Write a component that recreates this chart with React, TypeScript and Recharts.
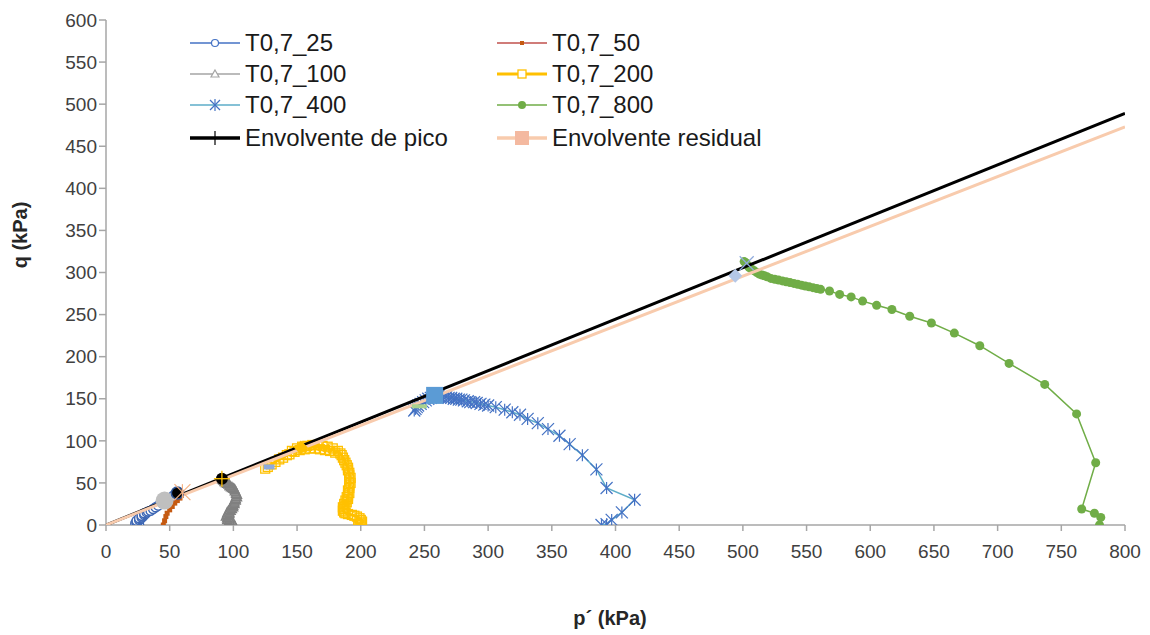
import React from "react";
import { ScatterChart, Scatter, XAxis, YAxis } from "recharts";

type Pt = { p: number; q: number };

const xTicks = [0, 50, 100, 150, 200, 250, 300, 350, 400, 450, 500, 550, 600, 650, 700, 750, 800];
const yTicks = [0, 50, 100, 150, 200, 250, 300, 350, 400, 450, 500, 550, 600];

// stress paths (p', q) in kPa
const t25: Pt[] = [
  { p: 26, q: 0 }, { p: 24, q: 1 }, { p: 23, q: 2 }, { p: 24, q: 3 }, { p: 25, q: 4 },
  { p: 24, q: 5 }, { p: 26, q: 6 }, { p: 27, q: 7 }, { p: 26, q: 8 }, { p: 28, q: 9 },
  { p: 29, q: 10 }, { p: 28, q: 11 }, { p: 30, q: 12 }, { p: 31, q: 13 }, { p: 30, q: 14 },
  { p: 32, q: 15 }, { p: 33, q: 16 }, { p: 35, q: 17 }, { p: 37, q: 19 }, { p: 39, q: 21 },
  { p: 41, q: 23 }, { p: 44, q: 26 }, { p: 47, q: 29 }, { p: 50, q: 32 }, { p: 53, q: 35 },
  { p: 55, q: 37 }, { p: 57, q: 39 },
];
const t50: Pt[] = [
  { p: 45, q: 0 }, { p: 46, q: 5 }, { p: 47, q: 10 }, { p: 48, q: 14 }, { p: 50, q: 18 },
  { p: 52, q: 22 }, { p: 54, q: 26 }, { p: 56, q: 29 }, { p: 58, q: 32 }, { p: 59, q: 35 },
];
const t100: Pt[] = [
  { p: 101, q: 0 }, { p: 99, q: 0 }, { p: 97, q: 1 }, { p: 100, q: 2 }, { p: 98, q: 3 },
  { p: 96, q: 4 }, { p: 99, q: 5 }, { p: 97, q: 6 }, { p: 95, q: 7 }, { p: 97, q: 8 },
  { p: 95, q: 9 }, { p: 96, q: 10 }, { p: 94, q: 11 }, { p: 96, q: 12 }, { p: 95, q: 13 },
  { p: 97, q: 14 }, { p: 95, q: 15 }, { p: 97, q: 16 }, { p: 96, q: 17 }, { p: 98, q: 18 },
  { p: 97, q: 19 }, { p: 99, q: 20 }, { p: 98, q: 21 }, { p: 100, q: 22 }, { p: 99, q: 23 },
  { p: 100, q: 24 }, { p: 99, q: 25 }, { p: 101, q: 26 }, { p: 100, q: 27 }, { p: 101, q: 28 },
  { p: 102, q: 30 }, { p: 101, q: 31 }, { p: 102, q: 32 }, { p: 103, q: 34 }, { p: 102, q: 35 },
  { p: 103, q: 37 }, { p: 102, q: 38 }, { p: 102, q: 40 }, { p: 101, q: 41 }, { p: 101, q: 43 },
  { p: 100, q: 44 }, { p: 99, q: 45 }, { p: 98, q: 46 }, { p: 97, q: 47 }, { p: 97, q: 48 },
  { p: 96, q: 49 }, { p: 95, q: 50 }, { p: 94, q: 51 }, { p: 93, q: 52 }, { p: 93, q: 53 },
  { p: 92, q: 54 }, { p: 91, q: 55 },
];
const t200: Pt[] = [
  { p: 199, q: 0 }, { p: 198, q: 1 }, { p: 200, q: 2 }, { p: 201, q: 4 }, { p: 200, q: 6 },
  { p: 199, q: 8 }, { p: 197, q: 10 }, { p: 195, q: 11 }, { p: 193, q: 12 }, { p: 190, q: 13 },
  { p: 188, q: 14 }, { p: 187, q: 15 }, { p: 186, q: 17 }, { p: 187, q: 19 }, { p: 186, q: 21 },
  { p: 188, q: 23 }, { p: 187, q: 25 }, { p: 189, q: 27 }, { p: 188, q: 29 }, { p: 190, q: 31 },
  { p: 189, q: 33 }, { p: 190, q: 35 }, { p: 191, q: 38 }, { p: 190, q: 41 }, { p: 191, q: 44 },
  { p: 191, q: 47 }, { p: 192, q: 50 }, { p: 191, q: 53 }, { p: 192, q: 56 }, { p: 191, q: 59 },
  { p: 191, q: 62 }, { p: 190, q: 65 }, { p: 190, q: 68 }, { p: 189, q: 71 }, { p: 188, q: 74 },
  { p: 187, q: 77 }, { p: 186, q: 80 }, { p: 185, q: 83 }, { p: 184, q: 85 }, { p: 182, q: 88 },
  { p: 180, q: 86 }, { p: 178, q: 91 }, { p: 176, q: 88 }, { p: 174, q: 93 }, { p: 172, q: 89 },
  { p: 170, q: 94 }, { p: 168, q: 90 }, { p: 166, q: 95 }, { p: 164, q: 91 }, { p: 162, q: 95 },
  { p: 160, q: 91 }, { p: 158, q: 94 }, { p: 156, q: 90 }, { p: 154, q: 93 }, { p: 152, q: 89 },
  { p: 150, q: 91 }, { p: 148, q: 87 }, { p: 146, q: 88 }, { p: 144, q: 84 }, { p: 142, q: 83 },
  { p: 139, q: 80 }, { p: 136, q: 78 }, { p: 133, q: 75 }, { p: 130, q: 72 }, { p: 127, q: 69 },
  { p: 125, q: 67 },
];
const t400: Pt[] = [
  { p: 389, q: 0 }, { p: 393, q: 1 }, { p: 397, q: 6 }, { p: 405, q: 15 }, { p: 415, q: 30 },
  { p: 393, q: 44 }, { p: 385, q: 66 }, { p: 374, q: 83 }, { p: 364, q: 96 }, { p: 356, q: 106 },
  { p: 347, q: 114 }, { p: 339, q: 121 }, { p: 331, q: 126 }, { p: 325, q: 131 }, { p: 319, q: 134 },
  { p: 313, q: 137 }, { p: 306, q: 140 }, { p: 300, q: 142 }, { p: 297, q: 143 }, { p: 294, q: 144 },
  { p: 291, q: 145 }, { p: 289, q: 146 }, { p: 286, q: 146 }, { p: 284, q: 147 }, { p: 281, q: 148 },
  { p: 279, q: 149 }, { p: 277, q: 149 }, { p: 275, q: 150 }, { p: 273, q: 150 }, { p: 271, q: 151 },
  { p: 269, q: 151 }, { p: 267, q: 152 }, { p: 265, q: 152 }, { p: 263, q: 152 }, { p: 261, q: 153 },
  { p: 259, q: 153 }, { p: 257, q: 152 }, { p: 255, q: 151 }, { p: 253, q: 150 }, { p: 251, q: 148 },
  { p: 249, q: 146 }, { p: 247, q: 144 }, { p: 245, q: 142 }, { p: 244, q: 140 }, { p: 243, q: 138 },
  { p: 242, q: 136 },
];
const t800: Pt[] = [
  { p: 780, q: 0 }, { p: 781, q: 9 }, { p: 776, q: 14 }, { p: 766, q: 19 }, { p: 777, q: 74 },
  { p: 762, q: 132 }, { p: 737, q: 167 }, { p: 709, q: 192 }, { p: 686, q: 213 }, { p: 666, q: 228 },
  { p: 648, q: 240 }, { p: 631, q: 248 }, { p: 617, q: 256 }, { p: 605, q: 261 }, { p: 594, q: 266 },
  { p: 585, q: 271 }, { p: 576, q: 274 }, { p: 568, q: 278 }, { p: 561, q: 280 }, { p: 558, q: 281 },
  { p: 555, q: 282 }, { p: 552, q: 283 }, { p: 549, q: 284 }, { p: 546, q: 285 }, { p: 543, q: 286 },
  { p: 540, q: 287 }, { p: 537, q: 288 }, { p: 534, q: 289 }, { p: 531, q: 290 }, { p: 528, q: 291 },
  { p: 525, q: 292 }, { p: 522, q: 293 }, { p: 519, q: 295 }, { p: 517, q: 296 }, { p: 515, q: 297 },
  { p: 513, q: 298 }, { p: 511, q: 300 }, { p: 509, q: 302 }, { p: 507, q: 304 }, { p: 505, q: 306 },
  { p: 504, q: 308 }, { p: 503, q: 310 }, { p: 502, q: 312 }, { p: 501, q: 313 },
];

// failure envelopes
const envPico: Pt[] = [{ p: 0, q: 0 }, { p: 800, q: 489 }];
const envResidual: Pt[] = [{ p: 0, q: 0 }, { p: 800, q: 473 }];

// picked peak / residual states
const pk25a: Pt[] = [{ p: 46, q: 29 }];
const pk25b: Pt[] = [{ p: 56, q: 38 }];
const pk50: Pt[] = [{ p: 60, q: 39 }];
const pk100: Pt[] = [{ p: 91, q: 55 }];
const pk200: Pt[] = [{ p: 153, q: 92 }];
const rs200: Pt[] = [{ p: 128, q: 69 }];
const pk400: Pt[] = [{ p: 258, q: 154 }];
const rs400: Pt[] = [{ p: 246, q: 141 }];
const rs800: Pt[] = [{ p: 494, q: 296 }];
const pk800: Pt[] = [{ p: 503, q: 311 }];

const FONT = "'Liberation Sans', Arial, sans-serif";
const AXIS = "#A6A6A6";

const hollowCircle = (color: string, r: number) => (props: any) =>
  <circle cx={props.cx} cy={props.cy} r={r} fill="#fff" stroke={color} strokeWidth={1.5} />;
const dot = (color: string, r: number, stroke = "none") => (props: any) =>
  <circle cx={props.cx} cy={props.cy} r={r} fill={color} stroke={stroke} strokeWidth={1.5} />;
const square = (fill: string, stroke: string, s: number) => (props: any) =>
  <rect x={props.cx - s / 2} y={props.cy - s / 2} width={s} height={s} fill={fill} stroke={stroke} strokeWidth={1.3} />;
const dash = (color: string, w: number, h: number) => (props: any) =>
  <rect x={props.cx - w / 2} y={props.cy - h / 2} width={w} height={h} fill={color} />;
const triangle = (color: string, s: number) => (props: any) => {
  const { cx, cy } = props;
  const h = s / 2;
  return <path d={`M${cx},${cy - h}L${cx + h},${cy + h}L${cx - h},${cy + h}Z`} fill="#9A9A9A" stroke={color} strokeWidth={1.2} />;
};
const diamond = (color: string, s: number) => (props: any) => {
  const { cx, cy } = props;
  const h = s / 2;
  return <path d={`M${cx},${cy - h}L${cx + h},${cy}L${cx},${cy + h}L${cx - h},${cy}Z`} fill={color} />;
};
const asterisk = (color: string, s: number, plus = true) => (props: any) => {
  const { cx, cy } = props;
  const h = s / 2;
  return (
    <g stroke={color} strokeWidth={1.2}>
      <line x1={cx - h} y1={cy - h} x2={cx + h} y2={cy + h} />
      <line x1={cx - h} y1={cy + h} x2={cx + h} y2={cy - h} />
      {plus && <line x1={cx} y1={cy - h} x2={cx} y2={cy + h} />}
    </g>
  );
};
const crossDot = (props: any) => {
  const { cx, cy } = props;
  return (
    <g>
      <circle cx={cx} cy={cy} r={6} fill="#000" />
      <line x1={cx - 8} y1={cy} x2={cx + 8} y2={cy} stroke="#FFC000" strokeWidth={1.3} />
      <line x1={cx} y1={cy - 8} x2={cx} y2={cy + 8} stroke="#FFC000" strokeWidth={1.3} />
    </g>
  );
};
const none = () => <g />;

type LegendItem = { name: string; col: number; row: number; icon: React.ReactNode };

const legendItems: LegendItem[] = [
  { name: "T0,7_25", col: 0, row: 0, icon: <><line x1={0} y1={10} x2={50} y2={10} stroke="#4472C4" strokeWidth={1.5} /><circle cx={25} cy={10} r={3.5} fill="#fff" stroke="#4472C4" strokeWidth={1.2} /></> },
  { name: "T0,7_50", col: 1, row: 0, icon: <><line x1={0} y1={10} x2={50} y2={10} stroke="#C0504D" strokeWidth={1.5} /><rect x={23} y={8} width={4} height={4} fill="#C55A11" /></> },
  { name: "T0,7_100", col: 0, row: 1, icon: <><line x1={0} y1={10} x2={50} y2={10} stroke="#A5A5A5" strokeWidth={1.5} /><path d="M25,6L29,13L21,13Z" fill="#fff" stroke="#A5A5A5" strokeWidth={1.2} /></> },
  { name: "T0,7_200", col: 1, row: 1, icon: <><line x1={0} y1={10} x2={50} y2={10} stroke="#FFC000" strokeWidth={3} /><rect x={21} y={6} width={8} height={8} fill="#fff" stroke="#FFC000" strokeWidth={1.3} /></> },
  { name: "T0,7_400", col: 0, row: 2, icon: <><line x1={0} y1={10} x2={50} y2={10} stroke="#5DADC8" strokeWidth={1.5} /><g stroke="#4472C4" strokeWidth={1.2}><line x1={20} y1={5} x2={30} y2={15} /><line x1={20} y1={15} x2={30} y2={5} /><line x1={25} y1={4} x2={25} y2={16} /></g></> },
  { name: "T0,7_800", col: 1, row: 2, icon: <><line x1={0} y1={10} x2={50} y2={10} stroke="#70AD47" strokeWidth={1.5} /><circle cx={25} cy={10} r={4} fill="#70AD47" /></> },
  { name: "Envolvente de pico", col: 0, row: 3, icon: <><line x1={0} y1={10} x2={50} y2={10} stroke="#000" strokeWidth={3.5} /><line x1={25} y1={3} x2={25} y2={17} stroke="#000" strokeWidth={1.2} /></> },
  { name: "Envolvente residual", col: 1, row: 3, icon: <><line x1={0} y1={10} x2={50} y2={10} stroke="#F8CBAD" strokeWidth={3.5} /><rect x={18} y={3} width={14} height={14} fill="#F4B9A0" /></> },
];

const legendCols = [182, 489];
const legendRows = [35, 66, 97, 130];

function ChartLegend() {
  return (
    <>
      {legendItems.map((it) => (
        <div
          key={it.name}
          style={{
            position: "absolute",
            left: legendCols[it.col],
            top: legendRows[it.row] - 13,
            height: 26,
            display: "flex",
            alignItems: "center",
            fontFamily: FONT,
            fontSize: 24,
            color: "#1a1a1a",
            whiteSpace: "nowrap",
          }}
        >
          <svg width={52} height={20} style={{ marginRight: 3 }}>{it.icon}</svg>
          <span>{it.name}</span>
        </div>
      ))}
    </>
  );
}

const tickStyle = { fill: "#404040", fontSize: 19, fontFamily: FONT };

export default function App() {
  return (
    <div style={{ position: "relative", width: 1142, height: 627 }}>
      <ScatterChart width={1142} height={627} margin={{ top: 12, right: 25, left: 38, bottom: 80 }}>
        <XAxis
          type="number"
          dataKey="p"
          domain={[0, 800]}
          ticks={xTicks}
          interval={0}
          allowDataOverflow
          height={30}
          stroke={AXIS}
          strokeWidth={1.5}
          tickSize={6}
          tickMargin={14}
          tick={tickStyle}
        />
        <YAxis
          type="number"
          dataKey="q"
          domain={[0, 600]}
          ticks={yTicks}
          interval={0}
          allowDataOverflow
          width={60}
          stroke={AXIS}
          strokeWidth={1.5}
          tickSize={7}
          tickMargin={2}
          tick={tickStyle}
        />
        <Scatter data={t25} line={{ stroke: "#4472C4", strokeWidth: 1.5 }} lineType="joint" shape={hollowCircle("#3F68B5", 4.5)} isAnimationActive={false} />
        <Scatter data={t50} line={{ stroke: "#C0504D", strokeWidth: 1.5 }} lineType="joint" shape={square("#C55A11", "none", 5)} isAnimationActive={false} />
        <Scatter data={t100} line={{ stroke: "#A5A5A5", strokeWidth: 1.5 }} lineType="joint" shape={triangle("#808080", 9)} isAnimationActive={false} />
        <Scatter data={t200} line={{ stroke: "#FFC000", strokeWidth: 3 }} lineType="joint" shape={square("none", "#FFC000", 9)} isAnimationActive={false} />
        <Scatter data={t400} line={{ stroke: "#5DADC8", strokeWidth: 1.5 }} lineType="joint" shape={asterisk("#4472C4", 12)} isAnimationActive={false} />
        <Scatter data={t800} line={{ stroke: "#70AD47", strokeWidth: 1.5 }} lineType="joint" shape={dot("#70AD47", 4.5)} isAnimationActive={false} />
        <Scatter data={envPico} line={{ stroke: "#000", strokeWidth: 3 }} lineType="joint" shape={none} isAnimationActive={false} />
        <Scatter data={envResidual} line={{ stroke: "#F8CBAD", strokeWidth: 3 }} lineType="joint" shape={none} isAnimationActive={false} />
        <Scatter data={pk25a} shape={dot("#BFBFBF", 9)} isAnimationActive={false} />
        <Scatter data={pk25b} shape={dot("#000", 6, "#2F5597")} isAnimationActive={false} />
        <Scatter data={pk50} shape={asterisk("#F4B183", 16)} isAnimationActive={false} />
        <Scatter data={pk100} shape={crossDot} isAnimationActive={false} />
        <Scatter data={pk200} shape={diamond("#FFC000", 14)} isAnimationActive={false} />
        <Scatter data={rs200} shape={dash("#8FAADC", 11, 5)} isAnimationActive={false} />
        <Scatter data={pk400} shape={square("#5B9BD5", "none", 17)} isAnimationActive={false} />
        <Scatter data={rs400} shape={dash("#A9D18E", 15, 4)} isAnimationActive={false} />
        <Scatter data={rs800} shape={diamond("#B4C7E7", 14)} isAnimationActive={false} />
        <Scatter data={pk800} shape={asterisk("#8FAADC", 14, false)} isAnimationActive={false} />
      </ScatterChart>
      <ChartLegend />
      <div
        style={{
          position: "absolute",
          left: 12,
          top: 227,
          transform: "translate(-50%, -50%) rotate(-90deg)",
          fontFamily: FONT,
          fontSize: 20,
          fontWeight: "bold",
          color: "#262626",
          whiteSpace: "nowrap",
        }}
      >
        q (kPa)
      </div>
      <div
        style={{
          position: "absolute",
          left: 602,
          top: 610,
          transform: "translate(-50%, -50%)",
          fontFamily: FONT,
          fontSize: 20,
          fontWeight: "bold",
          color: "#262626",
          whiteSpace: "nowrap",
        }}
      >
        p´ (kPa)
      </div>
    </div>
  );
}
